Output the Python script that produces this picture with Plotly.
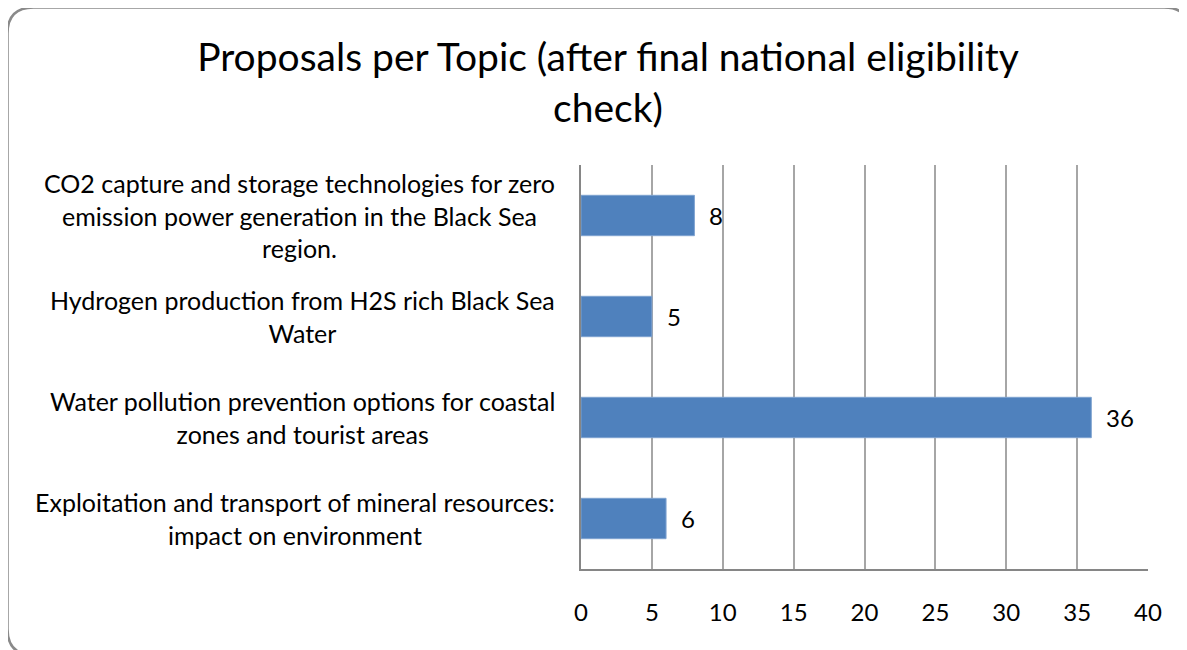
import plotly.graph_objects as go

# Data (top to bottom)
categories = [
    "CO2 capture and storage technologies for zero<br>emission power generation in the Black Sea<br>region.",
    "Hydrogen production from H2S rich Black Sea<br>Water",
    "Water pollution prevention options for coastal<br>zones and tourist areas",
    "Exploitation and transport of mineral resources:<br>impact on environment",
]
values = [8, 5, 36, 6]
tick_vals = [0, 5, 10, 15, 20, 25, 30, 35, 40]
title_text = "Proposals per Topic (after final national eligibility<br>check)"

OFF = 8  # page body margin
W, H = 1187 - OFF, 650 - OFF
L, R, T, B = 581 - OFF, 1148 - OFF, 165 - OFF, 569 - OFF
FONT = "Lato"

fig = go.Figure()
fig.add_trace(go.Bar(
    x=values, y=categories, orientation="h",
    marker=dict(color="#4F81BD", line=dict(color="#7FA3D0", width=1)),
    width=0.4,
    hoverinfo="skip",
))

pw, ph = R - L, B - T
def px2x(p):
    return (p - OFF - L) / pw
def py2y(p):
    return (B - (p - OFF)) / ph

annotations = []
for c, v in zip(categories, values):
    annotations.append(dict(x=v, y=c, xref="x", yref="y", text=str(v),
                            showarrow=False, xanchor="left", xshift=13,
                            font=dict(family=FONT, size=24, color="#000")))
    annotations.append(dict(x=px2x(557), y=c, xref="paper", yref="y",
                            text=c, showarrow=False, xanchor="right", align="center",
                            font=dict(family=FONT, size=25, color="#000")))

# rounded border (page pixel coords)
x0, y0, x1, y1, r = 7.5, 7.5, 1190, 655, 26
def P(x, y):
    return f"{px2x(x):.5f},{py2y(y):.5f}"
path = (f"M {P(x0 + r, y0)} L {P(x1 - r, y0)} "
        f"Q {P(x1, y0)} {P(x1, y0 + r)} L {P(x1, y1 - r)} "
        f"Q {P(x1, y1)} {P(x1 - r, y1)} L {P(x0 + r, y1)} "
        f"Q {P(x0, y1)} {P(x0, y1 - r)} L {P(x0, y0 + r)} "
        f"Q {P(x0, y0)} {P(x0 + r, y0)} Z")

fig.update_layout(
    width=W, height=H,
    margin=dict(l=L, r=W - R, t=T, b=H - B, autoexpand=False),
    paper_bgcolor="white", plot_bgcolor="white",
    showlegend=False,
    title=dict(text=title_text, x=(608 - OFF) / W, xanchor="center",
               y=1 - (71 - OFF) / H, yanchor="middle",
               font=dict(family=FONT, size=39, color="#000")),
    annotations=annotations,
    shapes=[dict(type="path", path=path, xref="paper", yref="paper",
                 line=dict(color="#8A8A8A", width=2.5), layer="below")],
    xaxis=dict(range=[0, 40], tickvals=tick_vals, showgrid=True,
               gridcolor="#A6A6A6", gridwidth=1.5, zeroline=False,
               showline=True, linecolor="#868686", linewidth=2,
               ticks="", ticklabelstandoff=21,
               tickfont=dict(family=FONT, size=24, color="#000"), fixedrange=True),
    yaxis=dict(autorange="reversed", showticklabels=False, showline=True,
               linecolor="#868686", linewidth=2, ticks="", showgrid=False),
)

fig.write_html("out.html")
